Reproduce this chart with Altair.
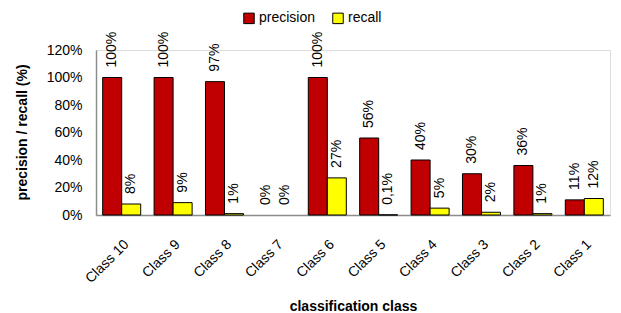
import altair as alt
import pandas as pd

classes = ["Class 10", "Class 9", "Class 8", "Class 7", "Class 6",
           "Class 5", "Class 4", "Class 3", "Class 2", "Class 1"]
precision = [100, 100, 97, 0, 100, 56, 40, 30, 36, 11]
recall = [8, 9, 1, 0, 27, 0.1, 5, 2, 1, 12]
precision_labels = ["100%", "100%", "97%", "0%", "100%", "56%", "40%", "30%", "36%", "11%"]
recall_labels = ["8%", "9%", "1%", "0%", "27%", "0,1%", "5%", "2%", "1%", "12%"]
series = ["precision", "recall"]
colors = ["#C00000", "#FFFF00"]
y_ticks = [0, 20, 40, 60, 80, 100, 120]

rows = []
for i, c in enumerate(classes):
    rows.append({"cls": c, "series": "precision", "value": precision[i], "label": precision_labels[i]})
    rows.append({"cls": c, "series": "recall", "value": recall[i], "label": recall_labels[i]})
df = pd.DataFrame(rows)

FONT = "Liberation Sans"

x_enc = alt.X("cls:N", sort=classes,
              scale=alt.Scale(paddingInner=0.26, paddingOuter=0.13),
              axis=alt.Axis(title="classification class", labelAngle=315,
                            labelFontSize=14, labelColor="#000000", labelFont=FONT,
                            labelPadding=22, ticks=False, domainColor="#8c8c8c",
                            domainWidth=1.5, titleFontSize=14, titleFont=FONT,
                            titleFontWeight="bold", titleColor="#000000",
                            titleY=91, titleBaseline="middle"))
xo_enc = alt.XOffset("series:N", sort=series)
y_enc = alt.Y("value:Q",
              scale=alt.Scale(domain=[0, 120], nice=False),
              axis=alt.Axis(title="precision / recall (%)", values=y_ticks,
                            labelExpr="datum.value + '%'", grid=False, ticks=False,
                            labelOverlap=False, labelFlush=False,
                            labelFontSize=14, labelFont=FONT, labelColor="#000000",
                            labelPadding=14, domainColor="#8c8c8c", domainWidth=1.5,
                            titleFontSize=14, titleFont=FONT, titleFontWeight="bold",
                            titleColor="#000000", titleX=-74, titleY=82,
                            titleAngle=270, titleAlign="center",
                            titleBaseline="middle"))

base = alt.Chart(df).encode(x=x_enc, xOffset=xo_enc, y=y_enc)

bars = base.mark_bar(stroke="#000000", strokeWidth=1).encode(
    color=alt.Color("series:N", sort=series,
                    scale=alt.Scale(domain=series, range=colors),
                    legend=alt.Legend(title=None, orient="none", legendX=146,
                                      legendY=-39, direction="horizontal",
                                      symbolType="square", symbolSize=110,
                                      symbolStrokeColor="#000000",
                                      symbolStrokeWidth=1, labelFontSize=14,
                                      labelFont=FONT, labelColor="#000000",
                                      columnPadding=14, labelOffset=3)),
    strokeOpacity=alt.condition("datum.value == 0", alt.value(0), alt.value(1)),
)

texts = base.mark_text(angle=270, align="left", baseline="middle",
                       dx=10, fontSize=14, font=FONT, color="#000000").encode(
    text="label:N"
)

chart = alt.layer(bars, texts).properties(
    width=514, height=165,
    autosize=alt.AutoSizeParams(type="none"),
    padding={"left": 88, "top": 42, "right": 3, "bottom": 100},
).configure_view(stroke=None).configure(background="#ffffff")

chart.save("out.html", embed_options={"renderer": "svg", "actions": False})
